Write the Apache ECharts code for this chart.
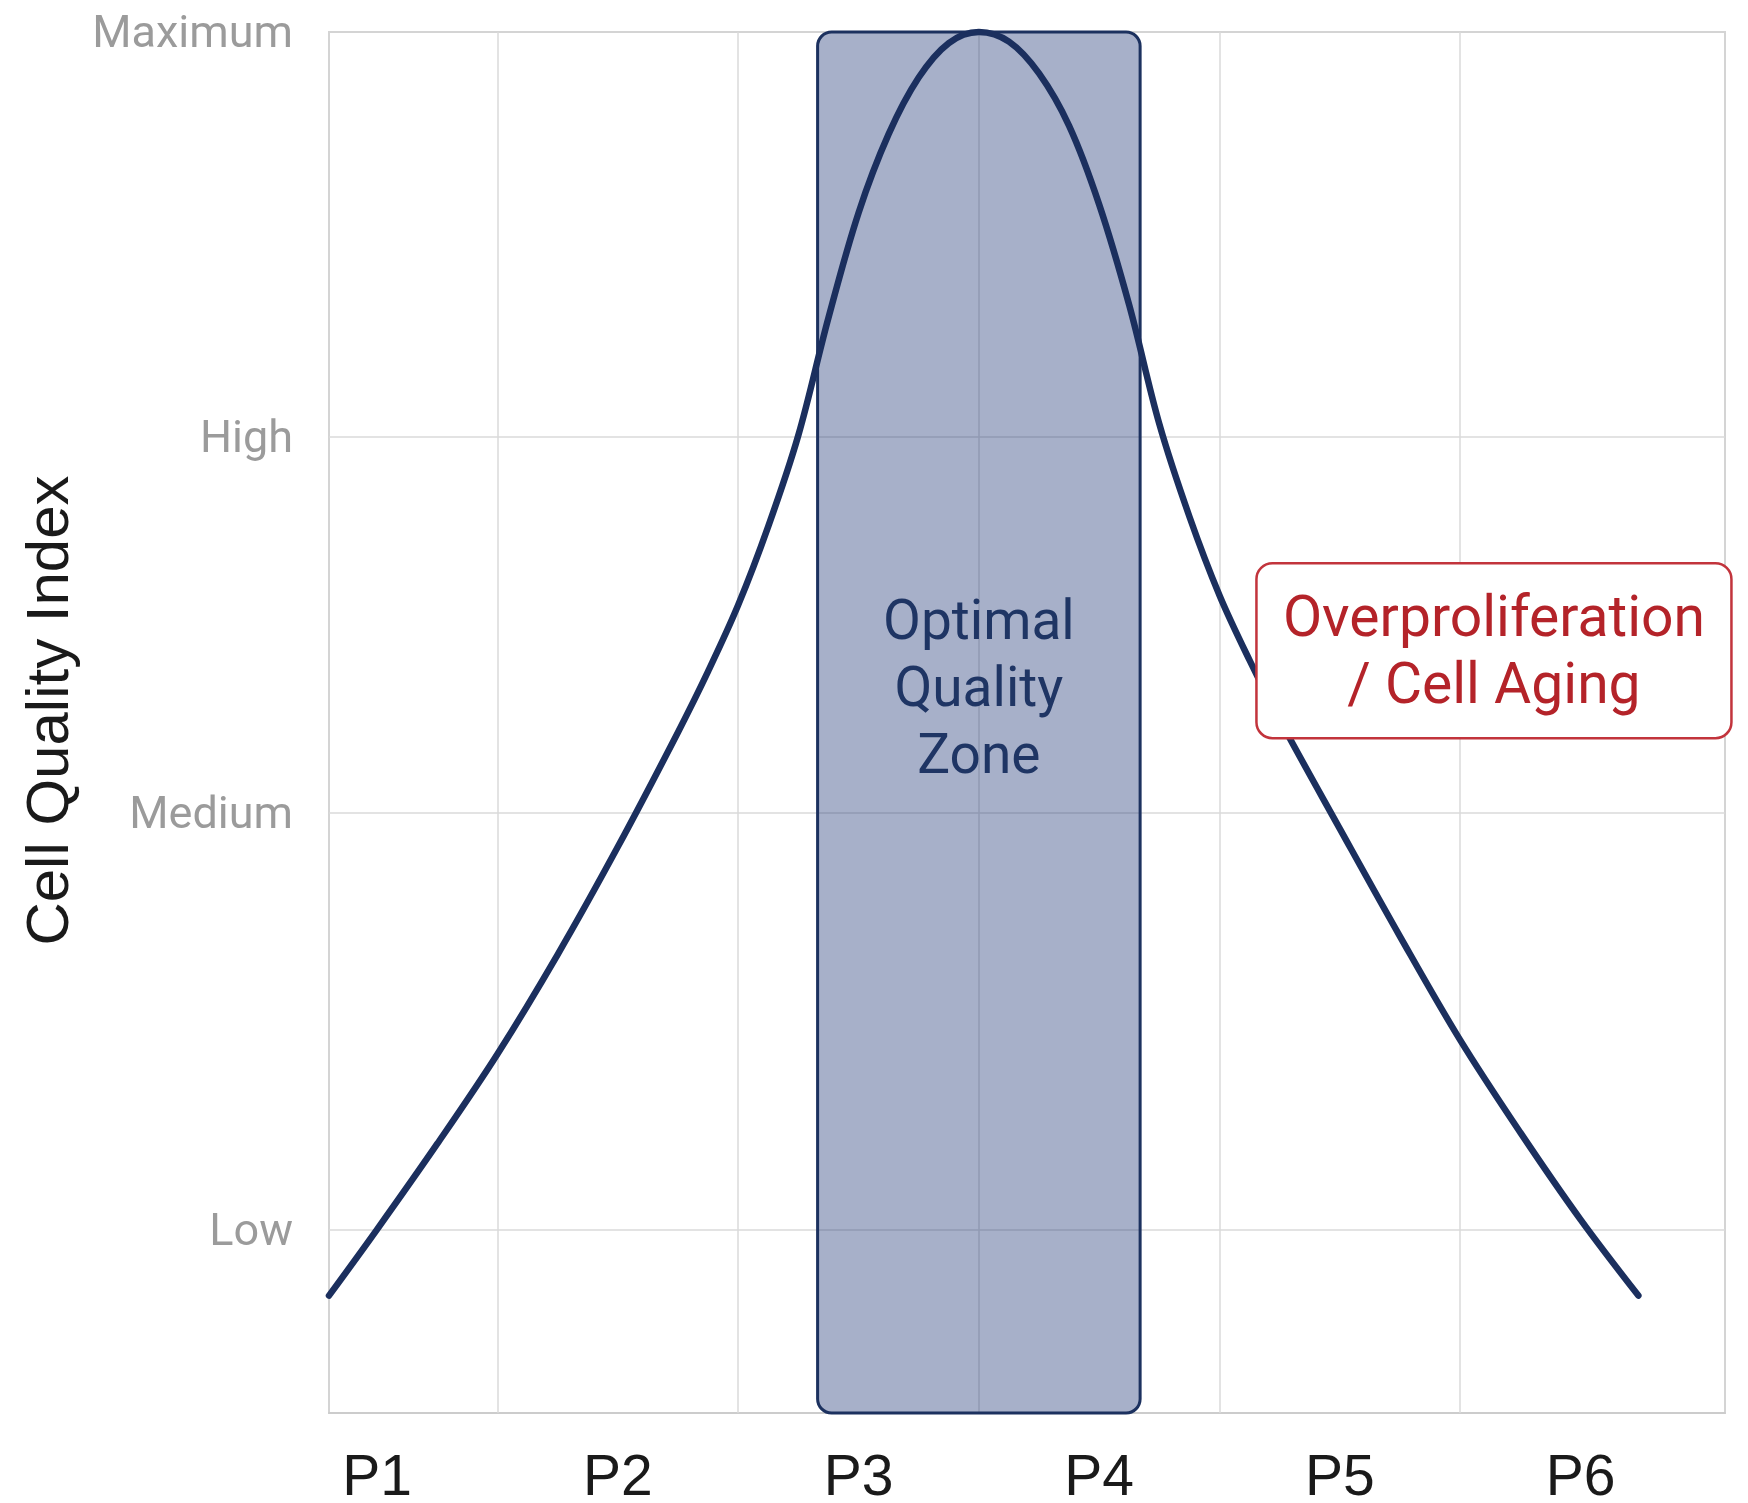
<!DOCTYPE html>
<html><head><meta charset="utf-8">
<script src="https://cdn.jsdelivr.net/npm/echarts@6/dist/echarts.min.js"></script>
<style>html,body{margin:0;padding:0;background:#fff}#c{width:1748px;height:1503px}</style>
</head><body><div id="c"></div>
<script>
// ---- data ----
const passageValues = [1, 2, 3, 4, 5, 6];
const passageLabels = ['P1', 'P2', 'P3', 'P4', 'P5', 'P6'];
const passageBoundaries = [1.5, 2.5, 3.5, 4.5, 5.5];
const qualityLevelValues = [13.3, 43.5, 70.7, 100];
const qualityLevelLabels = ['Low', 'Medium', 'High', 'Maximum'];
const curveX = [0.8, 1.0, 1.25, 1.5, 1.75, 2.0, 2.25, 2.375, 2.5, 2.625, 2.75, 2.875, 3.0, 3.125, 3.25, 3.375, 3.5,
                3.625, 3.75, 3.875, 4.0, 4.125, 4.25, 4.375, 4.5, 4.625, 4.75, 5.0, 5.25, 5.5, 5.75, 6.0, 6.24];
const curveY = [8.5, 13.3, 19.5, 26.0, 33.2, 41.0, 49.3, 53.7, 58.5, 64.2, 70.8, 79.3, 86.9, 92.6, 96.7, 99.2, 100,
                99.3, 97.0, 93.2, 87.5, 80.2, 71.6, 64.9, 59.2, 54.5, 50.2, 42.3, 34.5, 27.0, 20.3, 14.0, 8.5];
const optimalZone = [2.83, 4.17];
const optimalZoneText = 'Optimal\nQuality\nZone';
const optimalZoneTextAnchor = [3.5, 52.2];
const agingNoteText = 'Overproliferation\n/ Cell Aging';
const agingNoteAnchor = [5.64, 55.2];
const yTitle = 'Cell Quality Index';

const chart = echarts.init(document.getElementById('c'), null, {renderer: 'canvas'});
const gridLineData = passageBoundaries.map(v => ({xAxis: v}))
  .concat(qualityLevelValues.filter(v => v < 100).map(v => ({yAxis: v})));

chart.setOption({
  animation: false,
  backgroundColor: '#ffffff',
  grid: {left: 329, top: 32, right: 23, bottom: 90, outerBoundsMode: 'none', containLabel: false,
         show: true, borderColor: '#d4d4d4', borderWidth: 2, backgroundColor: 'transparent'},
  xAxis: {
    type: 'value', min: 0.8, max: 6.6,
    axisLine: {show: true, lineStyle: {color: '#cccccc', width: 2}},
    axisTick: {show: false},
    splitLine: {show: false},
    axisLabel: {
      customValues: passageValues,
      formatter: v => passageLabels[passageValues.indexOf(v)],
      fontSize: 57, fontFamily: 'Liberation Sans', color: '#1a1a1a', margin: 38
    }
  },
  yAxis: {
    type: 'value', min: 0, max: 100,
    name: yTitle, nameLocation: 'middle', nameRotate: 90, nameGap: 210,
    nameTextStyle: {fontSize: 60, fontFamily: 'Liberation Sans', color: '#1a1a1a', padding: [0, 0, 0, 24]},
    axisLine: {show: false},
    axisTick: {show: false},
    splitLine: {show: false},
    axisLabel: {
      customValues: qualityLevelValues,
      formatter: v => '{t|' + qualityLevelLabels[qualityLevelValues.indexOf(v)] + '}',
      margin: 36,
      rich: {t: {fontSize: 45, fontFamily: 'Roboto', color: '#9b9b9b', padding: [8, 0, 0, 0]}}
    }
  },
  series: [
    {
      type: 'line', z: 1, silent: true, symbol: 'none',
      data: [[0.8, 0]], lineStyle: {width: 0},
      markLine: {
        z: 1, silent: true, symbol: ['none', 'none'], label: {show: false},
        lineStyle: {color: '#dadada', width: 1.5, type: 'solid'},
        emphasis: {disabled: true},
        data: gridLineData
      }
    },
    {
      type: 'custom', z: 2, silent: true, clip: false,
      data: [[optimalZone[0], 0, optimalZone[1], 100]],
      encode: {x: [0, 2], y: [1, 3]},
      renderItem: (params, api) => {
        const p0 = api.coord([api.value(0), api.value(3)]);
        const p1 = api.coord([api.value(2), api.value(1)]);
        return {
          type: 'rect',
          shape: {x: p0[0], y: p0[1], width: p1[0] - p0[0], height: p1[1] - p0[1], r: 14},
          style: {fill: 'rgba(35,58,120,0.4)', stroke: '#1c315f', lineWidth: 3}
        };
      }
    },
    {
      type: 'line', z: 3, silent: true, symbol: 'none', clip: false,
      smooth: 0.35,
      data: curveX.map((x, i) => [x, curveY[i]]),
      lineStyle: {color: '#1b2f5e', width: 6.5, cap: 'round', join: 'round'}
    },
    {
      type: 'custom', z: 4, silent: true, clip: false,
      data: [optimalZoneTextAnchor],
      renderItem: (params, api) => {
        const p = api.coord([api.value(0), api.value(1)]);
        return {
          type: 'text',
          style: {text: optimalZoneText, x: p[0], y: p[1], fill: '#1f3564', fontSize: 55, fontFamily: 'Roboto',
            align: 'center', verticalAlign: 'middle', lineHeight: 67}
        };
      }
    },
    {
      type: 'custom', z: 5, silent: true, clip: false,
      data: [agingNoteAnchor],
      renderItem: (params, api) => {
        const p = api.coord([api.value(0), api.value(1)]);
        const w = 475, h = 175;
        return {
          type: 'group',
          children: [
            {type: 'rect', shape: {x: p[0] - w / 2, y: p[1] - h / 2, width: w, height: h, r: 16},
             style: {fill: '#ffffff', stroke: '#c2343c', lineWidth: 2.5}},
            {type: 'text', style: {text: agingNoteText, x: p[0], y: p[1] + 5, fill: '#b42329', fontSize: 57,
              fontFamily: 'Roboto', align: 'center', verticalAlign: 'middle', lineHeight: 67}}
          ]
        };
      }
    }
  ]
});
</script>
</body></html>
